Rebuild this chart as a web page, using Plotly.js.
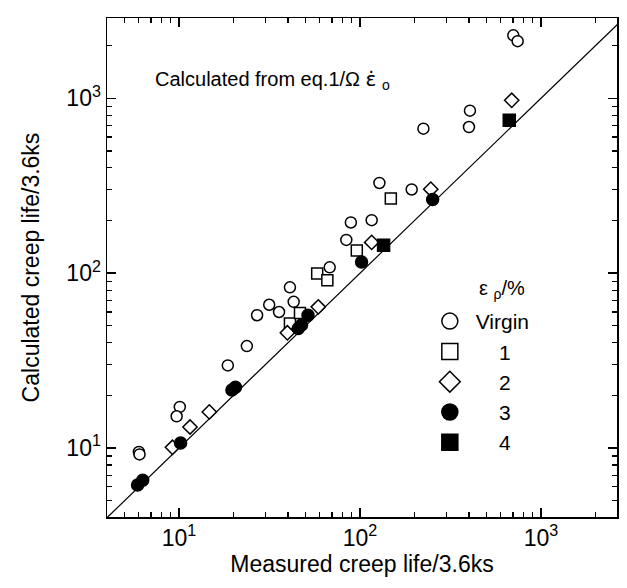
<!DOCTYPE html>
<html><head><meta charset="utf-8">
<script src="https://cdn.plot.ly/plotly-3.0.1.min.js"></script>
<style>html,body{margin:0;padding:0;background:#fff}</style>
</head><body><div id="chart" style="width:627px;height:588px"></div>
<script>
// Measured (x) vs calculated (y) creep life, units of 3.6 ks
const virginX = [703, 743, 405, 400, 224, 128, 193, 89, 116, 84, 68, 41, 43, 31.5, 35.7, 27, 23.7, 18.6, 10.1, 9.7, 6.0, 6.05];
const virginY = [2290, 2120, 850, 685, 670, 328, 301, 195, 201, 155, 108, 83, 68.6, 66, 60, 57.5, 38.3, 29.7, 17.2, 15.2, 9.5, 9.2];
const pre1X = [148, 96, 58, 66, 41, 46.6];
const pre1Y = [267, 135, 99.6, 91.2, 51.6, 59.3];
const pre2X = [689, 246, 116, 58.8, 39.7, 14.7, 11.5, 9.2];
const pre2Y = [974, 302, 150, 64.2, 45.6, 16.1, 13.2, 10.1];
const pre3X = [252, 102, 51.6, 45.6, 47.5, 19.6, 20.5, 10.2, 6.3, 5.9];
const pre3Y = [264, 116, 57.5, 48.3, 50.5, 21.5, 22.3, 10.7, 6.55, 6.15];
const pre4X = [668, 135];
const pre4Y = [748, 144.6];
const diagXY = [1, 10000];

const seriesNames = ["\u00A0Virgin", "\u00A0\u00A0\u00A0\u00A0\u00A01", "\u00A0\u00A0\u00A0\u00A0\u00A02", "\u00A0\u00A0\u00A0\u00A0\u00A03", "\u00A0\u00A0\u00A0\u00A0\u00A04"];
const majorTickVals = [10, 100, 1000];
const majorTickText = ["10<sup>1</sup>", "10<sup>2</sup>", "10<sup>3</sup>"];
const minorTickVals = [5,6,7,8,9,20,30,40,50,60,70,80,90,200,300,400,500,600,700,800,900,2000];

const FONT = "Liberation Sans, Arial, Helvetica, sans-serif";

const styles = [
  {symbol: 'circle', color: '#fff'},
  {symbol: 'square', color: '#fff'},
  {symbol: 'diamond', color: '#fff'},
  {symbol: 'circle', color: '#000'},
  {symbol: 'square', color: '#000'}
];
const sizes = [11, 11, 11, 12, 12];
const xs = [virginX, pre1X, pre2X, pre3X, pre4X];
const ys = [virginY, pre1Y, pre2Y, pre3Y, pre4Y];

const traces = [{
  x: diagXY, y: diagXY, mode: 'lines', line: {color: '#000', width: 1.2},
  showlegend: false, hoverinfo: 'skip'
}];
for (let i = 0; i < 5; i++) {
  traces.push({
    x: xs[i], y: ys[i], mode: 'markers', showlegend: false,
    marker: {symbol: styles[i].symbol, size: sizes[i], color: styles[i].color,
             line: {color: '#000', width: 1.5}}
  });
}
for (let i = 0; i < 5; i++) {
  traces.push({
    x: [null], y: [null], mode: 'markers', name: seriesNames[i], showlegend: true,
    marker: {symbol: styles[i].symbol, size: 16, color: styles[i].color,
             line: {color: '#000', width: 1.5}}
  });
}

function axis(titleText, range, standoff) {
  return {
    type: 'log', range: range, showgrid: false, zeroline: false,
    showline: true, linecolor: '#000', linewidth: 1.5, mirror: 'allticks',
    ticks: 'inside', ticklen: 9, tickwidth: 1.5, tickcolor: '#000',
    tickmode: 'array', tickvals: majorTickVals, ticktext: majorTickText,
    tickfont: {family: FONT, size: 23, color: '#000'},
    minor: {tickmode: 'array', tickvals: minorTickVals, ticks: 'inside', ticklen: 5, tickwidth: 1.2, tickcolor: '#000', showgrid: false},
    title: {text: titleText, font: {family: FONT, size: 23, color: '#000'}, standoff: standoff}
  };
}

const layout = {
  width: 627, height: 588,
  margin: {l: 107, r: 10, t: 18, b: 71},
  paper_bgcolor: '#fff', plot_bgcolor: '#fff',
  xaxis: axis('Measured creep life/3.6ks', [0.602, 3.42], 5),
  yaxis: axis('Calculated creep life/3.6ks', [0.606, 3.459], 20),
  showlegend: true,
  legend: {x: 0.633, y: 0.433, xanchor: 'left', yanchor: 'top', bgcolor: 'rgba(0,0,0,0)',
           borderwidth: 0, font: {family: FONT, size: 21, color: '#000'}},
  annotations: [
    {xref: 'paper', yref: 'paper', x: 0.09, y: 0.876, xanchor: 'left', yanchor: 'middle',
     text: 'Calculated from eq.1/\u03A9 <span style="font-family:DejaVu Sans">\u03B5\u0307</span> <sub>o</sub>', showarrow: false,
     font: {family: FONT, size: 20, color: '#000'}},
    {xref: 'paper', yref: 'paper', x: 0.725, y: 0.455, xanchor: 'left', yanchor: 'middle',
     text: '\u03B5 <sub>\u03C1</sub>/%', showarrow: false,
     font: {family: FONT, size: 20, color: '#000'}}
  ]
};

Plotly.newPlot('chart', traces, layout, {displayModeBar: false, staticPlot: true});
</script></body></html>
